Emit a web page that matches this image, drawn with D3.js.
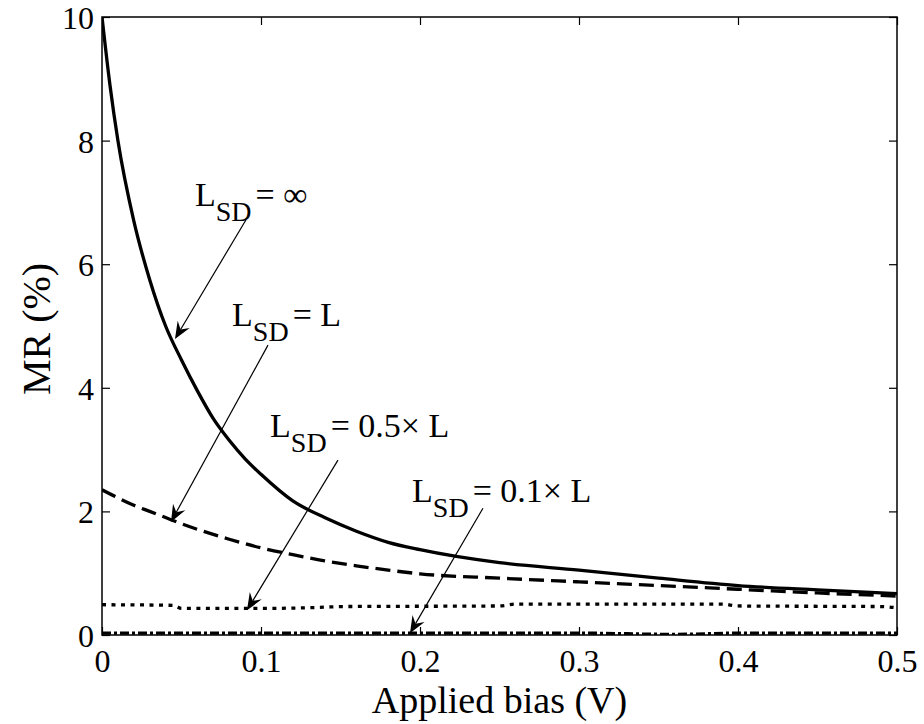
<!DOCTYPE html>
<html>
<head>
<meta charset="utf-8">
<script src="https://cdn.jsdelivr.net/npm/d3@7"></script>
<style>
  body { margin: 0; background: #fff; }
  svg { display: block; font-family: "Liberation Serif", "Times New Roman", serif; }
</style>
</head>
<body>
<svg width="924" height="724"></svg>
<script>
// bias values (V) and MR (%)
const biasInf = [0, 0.005, 0.01, 0.02, 0.03, 0.04, 0.05, 0.06, 0.07, 0.08, 0.09, 0.1, 0.12, 0.14, 0.16, 0.18, 0.2, 0.25, 0.3, 0.35, 0.4, 0.45, 0.5];
const mrInf = [10, 8.9, 8.0, 6.7, 5.75, 5.0, 4.45, 3.95, 3.5, 3.15, 2.85, 2.6, 2.17, 1.9, 1.68, 1.5, 1.38, 1.17, 1.05, 0.92, 0.8, 0.73, 0.67];

const biasL = [0, 0.01, 0.02, 0.03, 0.04, 0.05, 0.06, 0.08, 0.1, 0.12, 0.14, 0.16, 0.18, 0.2, 0.25, 0.3, 0.35, 0.4, 0.45, 0.5];
const mrL = [2.35, 2.22, 2.1, 2.0, 1.9, 1.8, 1.71, 1.55, 1.41, 1.3, 1.2, 1.12, 1.05, 0.99, 0.92, 0.86, 0.8, 0.74, 0.68, 0.63];

const biasHalf = [0, 0.045, 0.05, 0.1, 0.14, 0.15, 0.25, 0.26, 0.39, 0.4, 0.49, 0.5];
const mrHalf = [0.49, 0.48, 0.43, 0.43, 0.45, 0.46, 0.47, 0.5, 0.5, 0.47, 0.46, 0.44];

const biasTenth = [0, 0.1, 0.2, 0.3, 0.36, 0.4, 0.5];
const mrTenth = [0.03, 0.03, 0.03, 0.03, 0.01, 0.03, 0.03];

const xTicks = [0, 0.1, 0.2, 0.3, 0.4, 0.5];
const yTicks = [0, 2, 4, 6, 8, 10];

// label text position, arrow start, arrow tip (data units)
const notes = [
  {rhs: '= \u221e', at: [0.0585, 6.94], from: [0.0906, 6.72], to: [0.0459, 4.79]},
  {rhs: '= L', at: [0.0818, 5.0], from: [0.1044, 4.69], to: [0.0434, 1.83]},
  {rhs: '= 0.5\u00d7 L', at: [0.1057, 3.2], from: [0.1484, 2.83], to: [0.0912, 0.40]},
  {rhs: '= 0.1\u00d7 L', at: [0.195, 2.15], from: [0.2396, 2.05], to: [0.1937, 0.03]}
];

const svg = d3.select('svg');
const mLeft = 102, mRight = 897, mTop = 17, mBottom = 635;

const x = d3.scaleLinear().domain([0, 0.5]).range([mLeft, mRight]);
const y = d3.scaleLinear().domain([0, 10]).range([mBottom, mTop]);

svg.append('clipPath').attr('id', 'clip')
  .append('rect').attr('x', mLeft).attr('y', mTop)
  .attr('width', mRight - mLeft).attr('height', mBottom - mTop);

const series = [
  {xs: biasInf, ys: mrInf, dash: null},
  {xs: biasL, ys: mrL, dash: '15,7'},
  {xs: biasHalf, ys: mrHalf, dash: '4,5.5'},
  {xs: biasTenth, ys: mrTenth, dash: '9,3,3,3'}
];

const line = d3.line().x(d => x(d[0])).y(d => y(d[1])).curve(d3.curveMonotoneX);

svg.append('g').attr('clip-path', 'url(#clip)')
  .selectAll('path').data(series).join('path')
  .attr('d', s => line(s.xs.map((v, i) => [v, s.ys[i]])))
  .attr('fill', 'none').attr('stroke', '#000')
  .attr('stroke-width', 3.3)
  .attr('stroke-dasharray', s => s.dash);

// axes: ticks inward on all four sides
function styleAxis(g) {
  g.select('.domain').remove();
  g.selectAll('.tick line').attr('stroke', '#000').attr('stroke-width', 1.2);
  g.selectAll('text').attr('fill', '#000').style('font-size', '32px')
    .style('font-family', '"Liberation Serif", serif');
}

svg.append('g').attr('transform', `translate(0,${mBottom})`)
  .call(d3.axisBottom(x).tickValues(xTicks).tickSize(-8).tickPadding(10)
    .tickFormat(d => d === 0 ? '0' : d3.format('.1f')(d)))
  .call(styleAxis)
  .call(g => g.selectAll('text').attr('dy', '0.85em'));

svg.append('g').attr('transform', `translate(0,${mTop})`)
  .call(d3.axisTop(x).tickValues(xTicks).tickSize(-8).tickFormat(''))
  .call(styleAxis);

svg.append('g').attr('transform', `translate(${mLeft},0)`)
  .call(d3.axisLeft(y).tickValues(yTicks).tickSize(-8).tickPadding(8).tickFormat(d3.format('d')))
  .call(styleAxis)
  .call(g => g.selectAll('text').attr('dy', '0.36em'));

svg.append('g').attr('transform', `translate(${mRight},0)`)
  .call(d3.axisRight(y).tickValues(yTicks).tickSize(-8).tickFormat(''))
  .call(styleAxis);

svg.append('rect').attr('x', mLeft).attr('y', mTop)
  .attr('width', mRight - mLeft).attr('height', mBottom - mTop)
  .attr('fill', 'none').attr('stroke', '#000').attr('stroke-width', 1.5);

// axis titles
svg.append('text').attr('x', (mLeft + mRight) / 2).attr('y', 713)
  .attr('text-anchor', 'middle').style('font-size', '38px').text('Applied bias (V)');

svg.append('text').attr('transform', 'translate(50,329) rotate(-90)')
  .attr('text-anchor', 'middle').style('font-size', '40px').text('MR (%)');

// annotations
const ann = svg.append('g');
notes.forEach(n => {
  const t = ann.append('text').attr('x', x(n.at[0])).attr('y', y(n.at[1]))
    .style('font-size', '34px');
  t.append('tspan').text('L');
  t.append('tspan').attr('dy', 15).style('font-size', '28px').text('SD');
  t.append('tspan').attr('dy', -15).attr('dx', 4).text(n.rhs);

  const x1 = x(n.from[0]), y1 = y(n.from[1]);
  const x2 = x(n.to[0]), y2 = y(n.to[1]);
  const ang = Math.atan2(y2 - y1, x2 - x1);
  const len = 17, half = 7, notch = 11;
  const ux = Math.cos(ang), uy = Math.sin(ang);
  const px = -uy, py = ux;
  const bx = x2 - ux * len, by = y2 - uy * len;
  const nx = x2 - ux * notch, ny = y2 - uy * notch;

  ann.append('line').attr('x1', x1).attr('y1', y1).attr('x2', nx).attr('y2', ny)
    .attr('stroke', '#000').attr('stroke-width', 1.2);
  ann.append('path')
    .attr('d', `M${x2},${y2}L${bx + px * half},${by + py * half}L${nx},${ny}L${bx - px * half},${by - py * half}Z`)
    .attr('fill', '#000');
});
</script>
</body>
</html>
